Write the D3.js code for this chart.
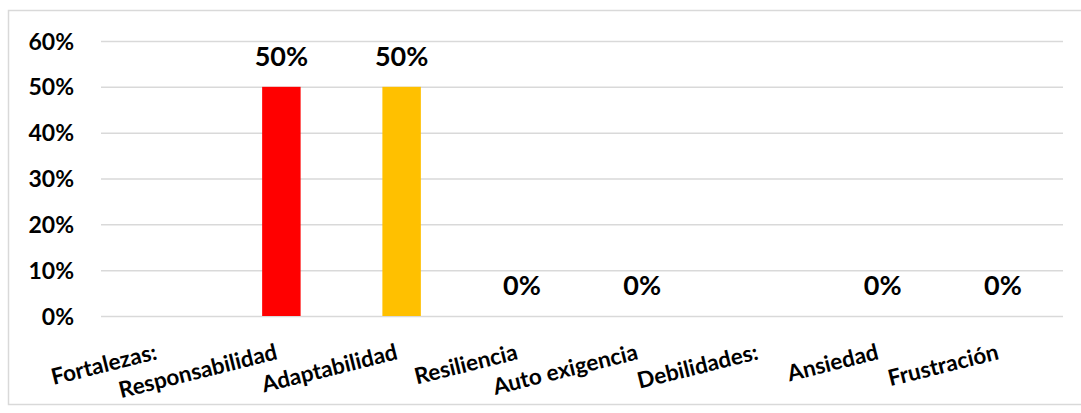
<!DOCTYPE html>
<html>
<head>
<meta charset="utf-8">
<script src="https://cdn.jsdelivr.net/npm/d3@7"></script>
<style>
  body { margin: 0; background: #fff; }
  svg { display: block; font-family: Lato, sans-serif; font-weight: bold; }
</style>
</head>
<body>
<svg id="chart" width="1081" height="413"></svg>
<script>
// categories and values (null = no bar, no label)
let categories = ['Fortalezas:', 'Responsabilidad', 'Adaptabilidad', 'Resiliencia', 'Auto exigencia', 'Debilidades:', 'Ansiedad', 'Frustración'];
let values = [null, 0.5, 0.5, 0, 0, null, 0, 0];
let barColors = ['#FF0000', '#FF0000', '#FFC000', '#FFC000', '#FFC000', '#FFC000', '#FFC000', '#FFC000'];
let yTicks = [0, 0.1, 0.2, 0.3, 0.4, 0.5, 0.6];

let svg = d3.select('#chart');
let plotLeft = 101, plotRight = 1063, plotTop = 41, plotBottom = 316;
let pct = d3.format('.0%');

// outer frame
svg.append('rect')
    .attr('x', 8.5).attr('y', 10.5)
    .attr('width', 1090).attr('height', 394)
    .attr('fill', 'none')
    .attr('stroke', '#d9d9d9')
    .attr('stroke-width', 1.5);

let x = d3.scaleBand()
    .domain(categories)
    .range([plotLeft, plotRight])
    .paddingInner(0.68)
    .paddingOuter(0.34);

let y = d3.scaleLinear()
    .domain([0, 0.6])
    .range([plotBottom, plotTop]);

// y axis with gridlines
let gy = svg.append('g')
    .attr('transform', `translate(${plotLeft},0)`)
    .call(d3.axisLeft(y)
        .tickValues(yTicks)
        .tickFormat(pct)
        .tickSize(-(plotRight - plotLeft))
        .tickPadding(27));
gy.select('.domain').remove();
gy.selectAll('.tick line')
    .attr('stroke', '#d9d9d9')
    .attr('stroke-width', 1.5);
gy.attr('font-family', null).attr('font-size', null);
gy.selectAll('.tick text')
    .attr('fill', '#000')
    .style('font-size', '23px')
    .attr('dy', '0.35em');

let shown = categories.map((c, i) => ({cat: c, value: values[i], color: barColors[i]}))
    .filter(d => d.value != null);

// bars
svg.selectAll('.bar')
    .data(shown)
    .enter()
    .append('rect')
    .attr('class', 'bar')
    .attr('x', d => x(d.cat))
    .attr('width', x.bandwidth())
    .attr('y', d => y(d.value))
    .attr('height', d => plotBottom - y(d.value))
    .attr('fill', d => d.color);

// value labels
svg.selectAll('.val')
    .data(shown)
    .enter()
    .append('text')
    .attr('class', 'val')
    .attr('x', d => x(d.cat) + x.bandwidth() / 2)
    .attr('y', d => y(d.value) - 21)
    .attr('text-anchor', 'middle')
    .style('font-size', '27px')
    .text(d => pct(d.value));

// rotated category labels
svg.selectAll('.cat')
    .data(categories)
    .enter()
    .append('text')
    .attr('class', 'cat')
    .attr('text-anchor', 'end')
    .attr('transform', d => `translate(${x(d) + x.bandwidth() / 2 - 3},${plotBottom + 43}) rotate(-14)`)
    .style('font-size', '22.5px')
    .text(d => d);
</script>
</body>
</html>
